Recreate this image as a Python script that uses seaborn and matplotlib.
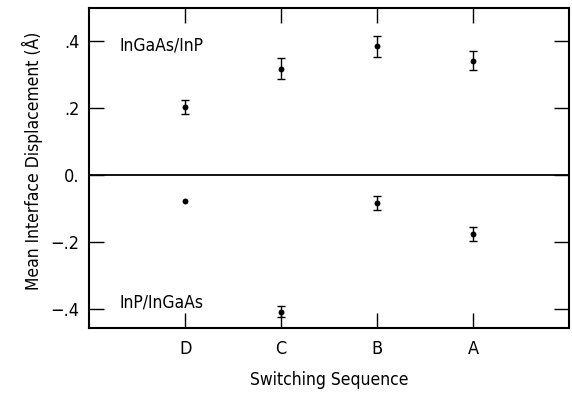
import matplotlib
matplotlib.use('Agg')
import matplotlib.pyplot as plt
import seaborn as sns
import pandas as pd

# 데이터
sequences = ['D', 'C', 'B', 'A']
upper_vals = [0.203, 0.319, 0.386, 0.343]
upper_errs = [0.021, 0.031, 0.031, 0.028]
lower_vals = [-0.076, -0.407, -0.082, -0.174]
lower_errs = [0.0, 0.016, 0.021, 0.021]
y_ticks = [-0.4, -0.2, 0.0, 0.2, 0.4]
y_ticklabels = ['\u2212.4', '\u2212.2', '0.', '.2', '.4']

sns.set_style("ticks")
plt.rcParams['font.family'] = ['DejaVu Sans']
plt.rcParams['font.stretch'] = 'condensed'
for key in ['text.color', 'axes.labelcolor', 'xtick.color', 'ytick.color', 'axes.edgecolor']:
    plt.rcParams[key] = 'black'

df = pd.DataFrame({
    'Sequence': sequences * 2,
    'Value': upper_vals + lower_vals,
    'Err': upper_errs + lower_errs,
})

fig, ax = plt.subplots(figsize=(5.72, 3.96), dpi=100)
fig.subplots_adjust(left=0.156, right=0.995, top=0.98, bottom=0.172)

ax.errorbar(df['Sequence'], df['Value'], yerr=df['Err'].where(df['Err'] > 0),
            fmt='none', ecolor='black', elinewidth=1, capsize=3, capthick=1)
sns.scatterplot(data=df, x='Sequence', y='Value', ax=ax, color='black',
                s=18, edgecolor='black', linewidth=0, zorder=3)

ax.axhline(0, color='black', lw=1.3)
ax.set_xlim(-1, 4)
ax.set_ylim(-0.455, 0.5)
ax.set_yticks(y_ticks)
ax.set_yticklabels(y_ticklabels)

ax.tick_params(direction='in', length=11, width=1, top=True, right=True,
               labelsize=13)
ax.tick_params(axis='x', pad=9)
ax.tick_params(axis='y', pad=7)
for sp in ax.spines.values():
    sp.set_linewidth(1.5)

ax.set_xlabel('Switching Sequence', fontsize=12.5, labelpad=9)
ax.set_ylabel('Mean Interface Displacement (\u00c5)', fontsize=12.5)
ax.yaxis.set_label_coords(-0.096, 0.522)

ax.text(0.0625, 0.866, 'InGaAs/InP', transform=ax.transAxes, fontsize=12.5,
        va='baseline', ha='left')
ax.text(0.0625, 0.0625, 'InP/InGaAs', transform=ax.transAxes, fontsize=12.5,
        va='baseline', ha='left')

plt.savefig('out.png', dpi=100)
